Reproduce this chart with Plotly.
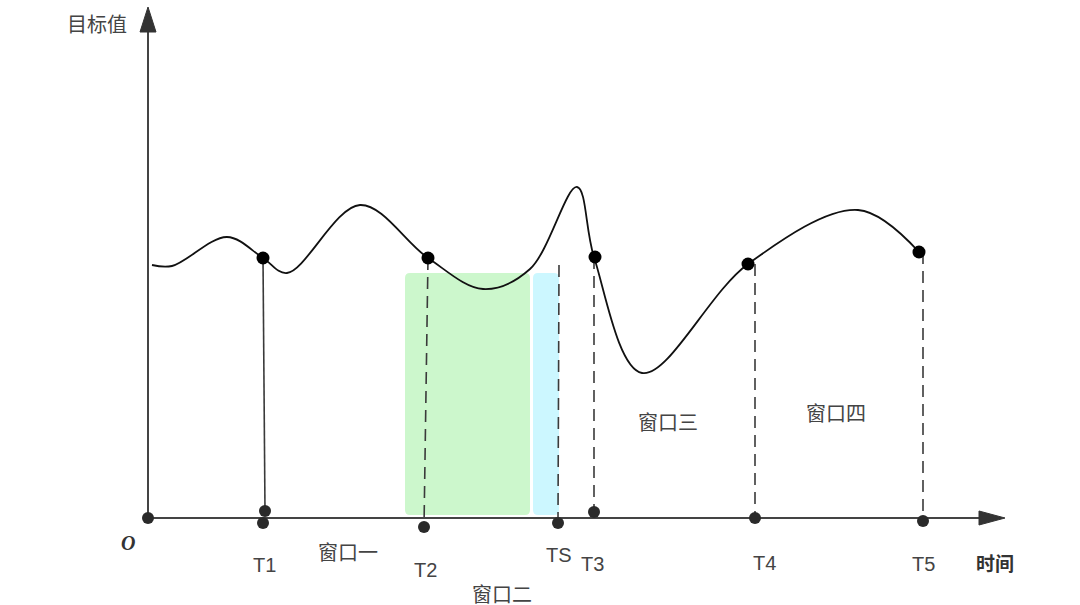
import plotly.graph_objects as go

# ---- data (time t, target value v), origin at the axes crossing ----
curve_t = [4, 24, 79, 115, 139, 212, 280, 335, 382, 429, 446, 494, 600, 710, 771]
curve_v = [253, 252, 281, 260, 245, 313, 260, 229, 249, 331, 261, 145, 254, 308, 266]

dot_labels = ["T1", "T2", "T3", "T4", "T5"]
dot_t = [115, 280, 447, 600, 771]
dot_v = [260, 260, 261, 254, 266]

base_t = [0, 117, 115, 276, 410, 446, 607, 775]
base_v = [0, 7, -5, -9, -5, 6, 0, -3]

drop_names = ["T1", "T2", "TS", "T3", "T4", "T5"]
drop_t0 = [115, 280, 411, 446, 607, 775]
drop_v0 = [260, 260, 253, 261, 254, 266]
drop_t1 = [117, 276, 410, 446, 607, 775]
drop_v1 = [7, -9, -2, 6, 1, -2]
drop_dash = ["solid", "12px,7px", "12px,7px", "12px,7px", "12px,7px", "12px,7px"]

win_t0 = [257, 385]
win_t1 = [382, 411]
win_v0 = [3, 3]
win_v1 = [245, 245]
win_colors = ["rgba(198,246,198,0.9)", "rgba(198,246,255,0.9)"]

labels = ["目标值", "T1", "窗口一", "T2", "TS", "T3", "窗口二", "T4", "T5", "窗口三", "窗口四"]
label_t = [-51, 116, 200, 277, 411, 444, 354, 616, 775, 520, 688]
label_v = [493, -47, -35, -52, -37, -46, -77, -45, -46, 95, 104]

x_axis_end = 835
y_axis_end = 490


def rounded(x0, x1, y0, y1, r=5):
    return (f"M {x0+r},{y0} L {x1-r},{y0} Q {x1},{y0} {x1},{y0+r} "
            f"L {x1},{y1-r} Q {x1},{y1} {x1-r},{y1} L {x0+r},{y1} "
            f"Q {x0},{y1} {x0},{y1-r} L {x0},{y0+r} Q {x0},{y0} {x0+r},{y0} Z")


fig = go.Figure()

# windows
for a, b, lo, top, c in zip(win_t0, win_t1, win_v0, win_v1, win_colors):
    fig.add_shape(type="path", path=rounded(a, b, lo, top), fillcolor=c,
                  line=dict(width=0), layer="below")

# axes
fig.add_trace(go.Scatter(x=[0, x_axis_end], y=[0, 0], mode="lines",
                         line=dict(color="#444", width=2), hoverinfo="skip"))
fig.add_trace(go.Scatter(x=[0, 0], y=[0, y_axis_end], mode="lines",
                         line=dict(color="#444", width=2), hoverinfo="skip"))
# arrow heads
fig.add_trace(go.Scatter(x=[831, 857, 831, 831], y=[7, 0, -7, 7], mode="lines",
                         fill="toself", fillcolor="#333", line=dict(color="#333", width=1),
                         hoverinfo="skip"))
fig.add_trace(go.Scatter(x=[-8, 0, 8, -8], y=[486, 511, 486, 486], mode="lines",
                         fill="toself", fillcolor="#333", line=dict(color="#333", width=1),
                         hoverinfo="skip"))

# drop lines
for t0, v0, t1, v1, d in zip(drop_t0, drop_v0, drop_t1, drop_v1, drop_dash):
    fig.add_trace(go.Scatter(x=[t0, t1], y=[v0, v1], mode="lines",
                             line=dict(color="#3a3a3a", width=1.6, dash=d), hoverinfo="skip"))

# curve
fig.add_trace(go.Scatter(x=curve_t, y=curve_v, mode="lines",
                         line=dict(color="#111", width=1.8, shape="spline", smoothing=1.0),
                         hoverinfo="skip"))

# dots
fig.add_trace(go.Scatter(x=dot_t, y=dot_v, mode="markers",
                         marker=dict(color="#000", size=13), text=dot_labels))
fig.add_trace(go.Scatter(x=base_t, y=base_v, mode="markers",
                         marker=dict(color="#2a2a2a", size=12)))

# labels
for txt, t, v in zip(labels, label_t, label_v):
    fig.add_annotation(x=t, y=v, text=txt, showarrow=False,
                       font=dict(family="Liberation Sans, Noto Sans CJK SC", size=20, color="#444"))
fig.add_annotation(x=847, y=-44, text="<b>时间</b>", showarrow=False,
                   font=dict(family="Noto Sans CJK SC", size=19, color="#333"))
fig.add_annotation(x=-20, y=-25, text="<b><i>O</i></b>", showarrow=False,
                   font=dict(family="Liberation Serif", size=20, color="#333"))

fig.update_layout(
    width=1080, height=605,
    margin=dict(l=0, r=0, t=0, b=0),
    paper_bgcolor="white", plot_bgcolor="white",
    showlegend=False,
    xaxis=dict(range=[-148, 932], visible=False, fixedrange=True),
    yaxis=dict(range=[-87, 518], visible=False, fixedrange=True),
)

fig.write_html("out.html", config={"displayModeBar": False},
               post_script="document.body.style.margin='0';document.body.style.overflow='hidden';")
